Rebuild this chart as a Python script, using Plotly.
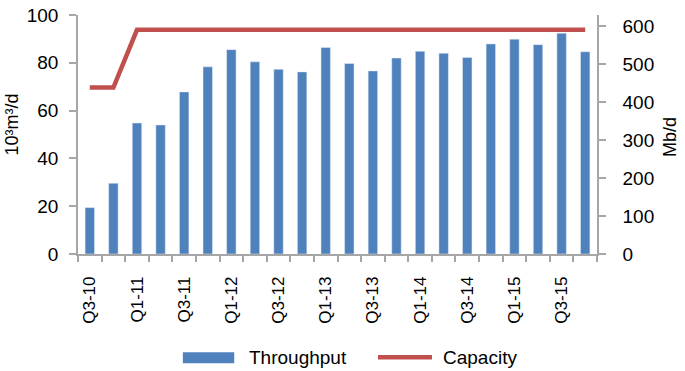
import plotly.graph_objects as go

quarters = ["Q3-10", "Q4-10", "Q1-11", "Q2-11", "Q3-11", "Q4-11", "Q1-12", "Q2-12",
            "Q3-12", "Q4-12", "Q1-13", "Q2-13", "Q3-13", "Q4-13", "Q1-14", "Q2-14",
            "Q3-14", "Q4-14", "Q1-15", "Q2-15", "Q3-15", "Q4-15"]
throughput = [19.4, 29.6, 54.8, 54.0, 67.8, 78.3, 85.5, 80.4, 77.3, 76.2, 86.4, 79.7,
              76.6, 82.0, 84.8, 84.0, 82.2, 87.9, 89.9, 87.6, 92.4, 84.6]  # 10^3 m3/d
capacity = [438, 438, 590, 590, 590, 590, 590, 590, 590, 590, 590, 590,
            590, 590, 590, 590, 590, 590, 590, 590, 590, 590]  # Mb/d

BLUE = "#4F81BD"
RED = "#C0504D"
AXC = "#A6A6A6"
FONT = "Liberation Sans, Arial, sans-serif"

xs = list(range(len(quarters)))

fig = go.Figure()
fig.add_trace(go.Bar(x=xs, y=throughput, name="Throughput", marker_color=BLUE,
                     width=0.4, yaxis="y"))
fig.add_trace(go.Scatter(x=xs, y=capacity, name="Capacity", mode="lines",
                         line=dict(color=RED, width=4.5), yaxis="y2"))

fig.update_layout(
    width=685, height=371,
    margin=dict(l=78, r=88, t=15, b=117),
    plot_bgcolor="white", paper_bgcolor="white",
    showlegend=False,
    font=dict(family=FONT, size=19, color="black"),
    xaxis=dict(
        automargin=False,
        range=[-0.5, len(quarters) - 0.5],
        tickmode="array",
        tickvals=xs[::2],
        ticktext=quarters[::2],
        tickangle=-90,
        ticks="outside", ticklen=6, tickcolor="rgba(0,0,0,0)",
        ticklabelstandoff=8,
        ticklabeloverflow="allow",
        minor=dict(tickmode="array", tickvals=[i - 0.5 for i in range(len(quarters) + 1)],
                   ticks="outside", ticklen=6, tickcolor=AXC, tickwidth=1.5),
        showline=True, linecolor=AXC, linewidth=1.5,
        showgrid=False, zeroline=False,
        tickfont=dict(size=17),
    ),
    yaxis=dict(
        automargin=False,
        range=[0, 100], dtick=20,
        ticks="outside", ticklen=7, tickcolor=AXC, tickwidth=1.5,
        showline=True, linecolor=AXC, linewidth=1.5,
        showgrid=False, zeroline=False,
        ticklabelstandoff=7,
        ticklabeloverflow="allow",
    ),
    yaxis2=dict(
        automargin=False,
        range=[0, 629], tickvals=[0, 100, 200, 300, 400, 500, 600],
        overlaying="y", side="right",
        ticks="outside", ticklen=7, tickcolor=AXC, tickwidth=1.5,
        showline=True, linecolor=AXC, linewidth=1.5,
        showgrid=False, zeroline=False,
        ticklabelstandoff=13,
        ticklabeloverflow="allow",
    ),
)

# axis titles
fig.add_annotation(xref="paper", yref="paper", x=-0.128, y=0.54, text="10³m³/d",
                   textangle=-90, showarrow=False, xanchor="center", yanchor="middle",
                   font=dict(size=18, family=FONT))
fig.add_annotation(xref="paper", yref="paper", x=1.141, y=0.49, text="Mb/d",
                   textangle=-90, showarrow=False, xanchor="center", yanchor="middle",
                   font=dict(size=18, family=FONT))

# custom legend
fig.add_shape(type="rect", xref="paper", yref="paper",
              x0=0.202, x1=0.301, y0=-0.457, y1=-0.411,
              fillcolor=BLUE, line=dict(width=0))
fig.add_annotation(xref="paper", yref="paper", x=0.325, y=-0.432, text="Throughput",
                   showarrow=False, xanchor="left", yanchor="middle",
                   font=dict(size=19, family=FONT))
fig.add_shape(type="line", xref="paper", yref="paper",
              x0=0.578, x1=0.682, y0=-0.432, y1=-0.432,
              line=dict(color=RED, width=4.5))
fig.add_annotation(xref="paper", yref="paper", x=0.700, y=-0.432, text="Capacity",
                   showarrow=False, xanchor="left", yanchor="middle",
                   font=dict(size=19, family=FONT))

fig.write_html("out.html", config={"displayModeBar": False},
               post_script="document.body.style.margin='0';document.body.style.overflow='hidden';")
